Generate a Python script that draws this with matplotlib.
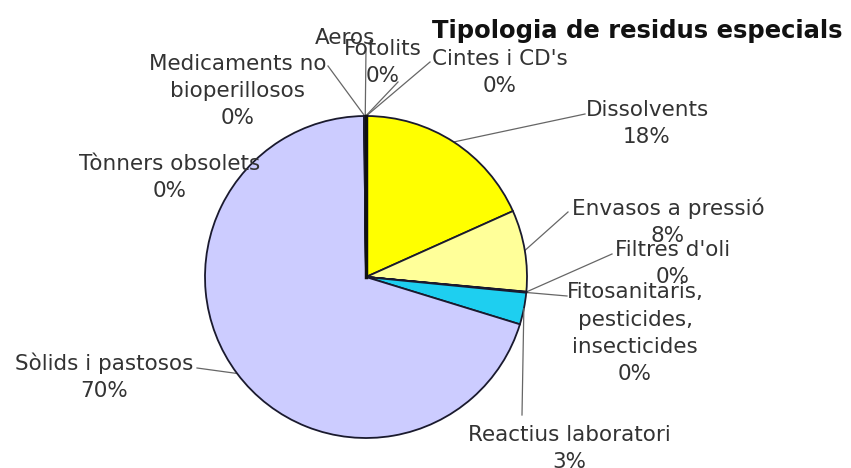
import numpy as np
import matplotlib
matplotlib.use("Agg")
import matplotlib.pyplot as plt

# ---- data (clockwise from 12 o'clock) ----
categories = ["Cintes i CD's", "Dissolvents", "Envasos a pressió", "Filtres d'oli",
              "Fitosanitaris,\npesticides,\ninsecticides", "Reactius laboratori",
              "Sòlids i pastosos", "Tònners obsolets",
              "Medicaments no\nbioperillosos", "Aeros", "Fotolits"]
values = [0.05, 18.3, 8.2, 0.05, 0.05, 3.2, 70.3, 0.05, 0.05, 0.05, 0.05]
pct_labels = ["0%", "18%", "8%", "0%", "0%", "3%", "70%", "0%", "0%", "", "0%"]
colors = ["#9999FF", "#FFFF00", "#FFFF99", "#993366", "#FFFFCC", "#1ECFF0",
          "#CCCCFF", "#CCFFFF", "#660066", "#FF8080", "#0066CC"]
title = "Tipologia de residus especials"

W, H = 851, 468
fig = plt.figure(figsize=(W / 100, H / 100), dpi=100)
ax = fig.add_axes([0, 0, 1, 1])

def Y(y):
    return H - y

cx, cy, R = 366, Y(277), 161
wedges, _ = ax.pie(values, colors=colors, startangle=90, counterclock=False,
                   center=(cx, cy), radius=R,
                   wedgeprops=dict(edgecolor="#1a1a2e", linewidth=1.3))
ax.set_xlim(0, W)
ax.set_ylim(0, H)
ax.set_aspect("equal")
ax.axis("off")

txt_kw = dict(fontsize=15.5, color="#333333", ha="center", va="baseline",
              family="DejaVu Sans", linespacing=1.45)

# label positions: center x, baseline of last line (pixels from top), leader anchor near label
label_pos = {
    0: (500, 92, (430, 62)),
    1: (647, 143, (585, 114)),
    2: (668, 242, (568, 212)),
    3: (673, 283, (612, 254)),
    4: (635, 380, (567, 296)),
    5: (569, 468, (522, 415)),
    6: (104, 397, (197, 368)),
    7: (170, 197, None),
    8: (238, 124, (328, 66)),
    9: (345, 44, (366, 48)),
    10: (383, 82, (398, 82)),
}

for i, (lx, ly, anchor) in label_pos.items():
    text = categories[i] + ("\n" + pct_labels[i] if pct_labels[i] else "")
    ax.text(lx, Y(ly), text, **txt_kw)
    if anchor is not None:
        w = wedges[i]
        mid = np.deg2rad((w.theta1 + w.theta2) / 2)
        ex, ey = cx + R * np.cos(mid), cy + R * np.sin(mid)
        ax.plot([anchor[0], ex], [Y(anchor[1]), ey], color="#666666", lw=0.9,
                zorder=0.5 if i != 5 else 3)

# thick dark seam where the tiny slices sit at 12 o'clock
ax.plot([cx, cx], [cy, cy + R], color="#111111", lw=2.5, zorder=4)

ax.text(432, Y(38), title, fontsize=17.5, fontweight="bold", color="#111111",
        family="DejaVu Sans", ha="left", va="baseline")

fig.savefig("out.png", dpi=100)
